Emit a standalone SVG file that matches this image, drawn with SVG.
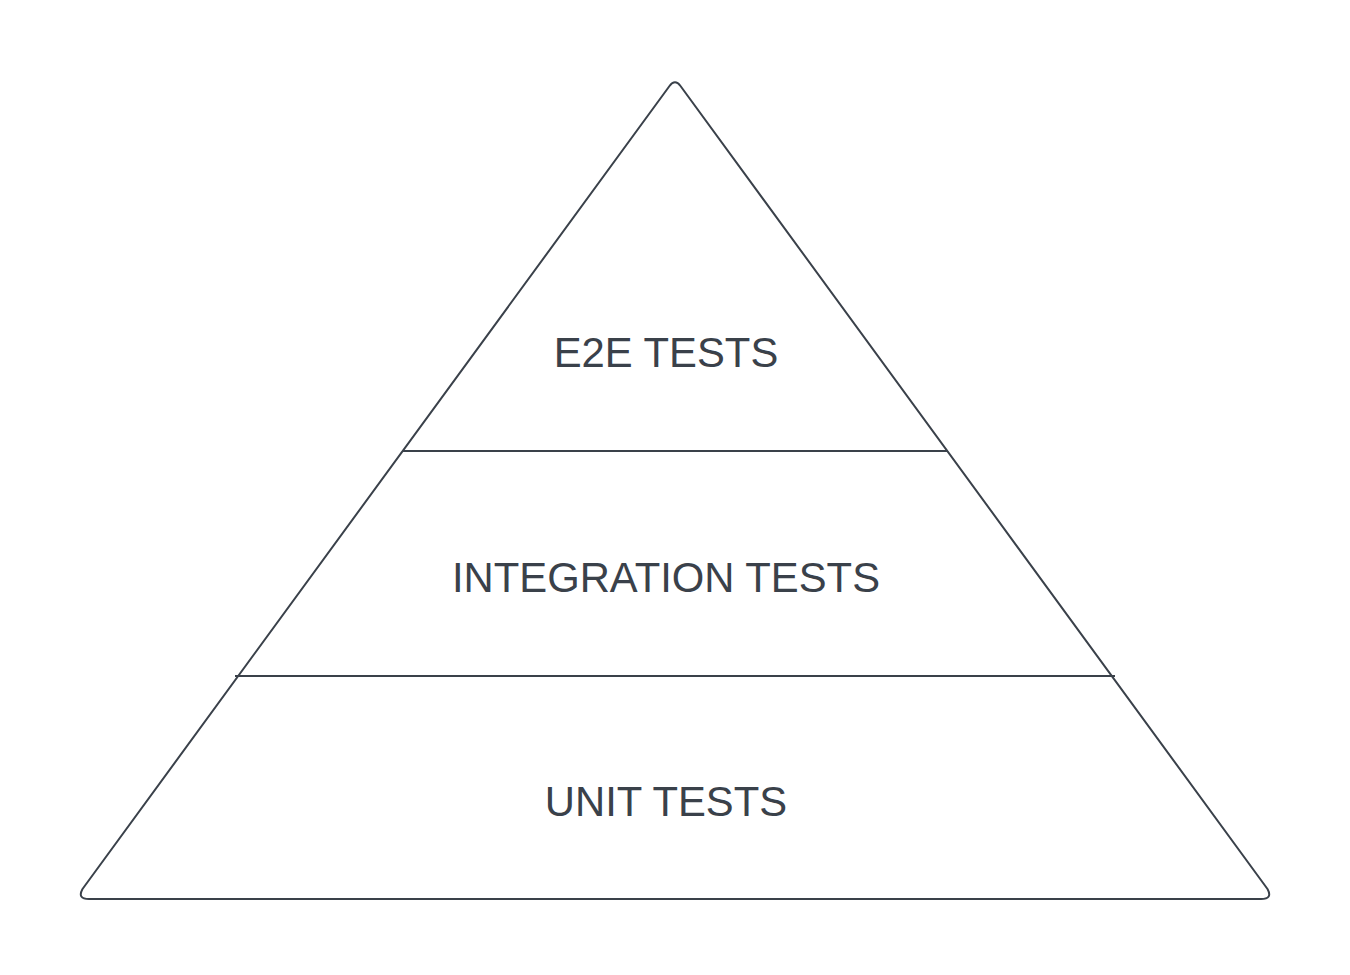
<svg xmlns="http://www.w3.org/2000/svg" width="1350" height="975" viewBox="0 0 1350 975">
<style>
.s{fill:none;stroke:#3a414a;stroke-width:2;stroke-linejoin:round}
.t{font-family:"Liberation Sans",Arial,sans-serif;font-size:41.8px;fill:#3a414a;text-anchor:middle}
</style>
<rect width="1350" height="975" fill="#fff"/>
<g id="pyramid">
<path class="s" d="M669.5,86 Q675,78.5 680.5,86 L1267.5,889 Q1273,899 1261,899 L89,899 Q77,899 82.5,889 Z"/>
</g>
<g id="connectors">
<line class="s" x1="403" y1="451" x2="948" y2="451"/>
<line class="s" x1="235" y1="676" x2="1115" y2="676"/>
</g>
<g id="e2e"><text class="t" x="666" y="367">E2E TESTS</text></g>
<g id="integration"><text class="t" x="666" y="592">INTEGRATION TESTS</text></g>
<g id="unit"><text class="t" x="666" y="816">UNIT TESTS</text></g>
</svg>
